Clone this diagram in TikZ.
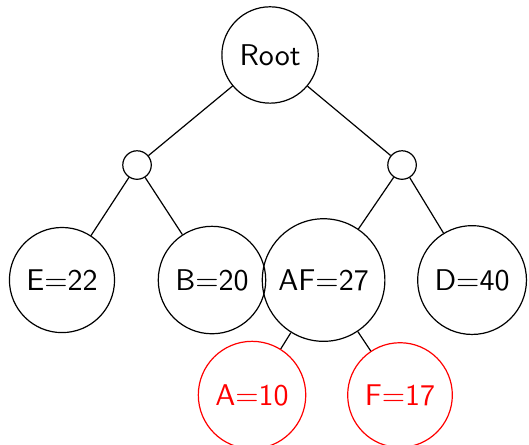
\documentclass[tikz,border=0pt]{standalone}
\usepackage{xcolor}
\usepackage{tikz}
\usetikzlibrary{positioning,calc}

\begin{document}
\begin{tikzpicture}[
        every node/.style={font=\sffamily},
        tnode/.style={draw, circle, inner sep=4pt},
        leaf/.style={tnode, draw=red, text=red},
        joint/.style={draw, circle, minimum size=9.5pt, inner sep=0pt}
    ]
        \useasboundingbox (0, 0) rectangle (6.196, -5.212);

        % top
        \node[tnode] (root) at (3.163, -0.644) {Root};
        \node[joint] (l) at (1.605, -1.933) {};
        \node[joint] (r) at (4.709, -1.933) {};

        % middle row
        \node[tnode] (e) at (0.726, -3.280) {E=22};
        \node[tnode] (b) at (2.483, -3.280) {B=20};
        \node[tnode] (af) at (3.790, -3.280) {AF=27};
        \node[tnode] (d) at (5.529, -3.280) {D=40};

        % bottom row
        \node[leaf] (a) at (2.952, -4.627) {A=10};
        \node[leaf] (f) at (4.685, -4.627) {F=17};

        % edges
        \draw (root) -- (l);
        \draw (root) -- (r);
        \draw (l) -- (e);
        \draw (l) -- (b);
        \draw (r) -- (af);
        \draw (r) -- (d);
        \draw (af) -- (a);
        \draw (af) -- (f);

    \end{tikzpicture}
\end{document}
